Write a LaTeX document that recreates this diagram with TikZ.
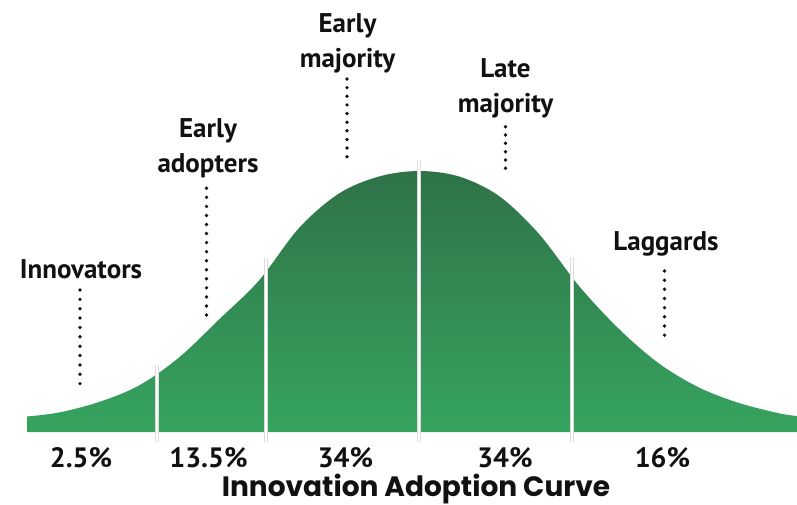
\documentclass[tikz,border=0pt]{standalone}
\usepackage{fontspec}
\setmainfont{PT Sans}
\newfontfamily\titlefont{Poppins}
\definecolor{gtop}{RGB}{47,114,72}
\definecolor{gbot}{RGB}{54,164,95}
\definecolor{ink}{RGB}{17,17,17}
\begin{document}
\begin{tikzpicture}[x=1pt,y=-1pt,
  lbl/.style={font=\fontsize{27}{35}\selectfont\bfseries, text=ink, inner sep=0pt, align=center},
  pct/.style={font=\fontsize{28}{32}\selectfont\bfseries, text=ink, inner sep=0pt},
  ttl/.style={font=\titlefont\fontsize{28}{32}\selectfont\bfseries, text=ink, inner sep=0pt},
  leader/.style={ink, line width=3.7pt, line cap=round, dash pattern=on 0pt off #1},
  divline/.style={line width=3.2pt, black!14},
  divcore/.style={line width=1.9pt, white}]
\useasboundingbox (0,0) rectangle (797,505);
% curve
\shade[top color=gtop, bottom color=gbot]
  (27,432) -- (27,416.5)
  -- plot[smooth, tension=0.55] coordinates {(27,416.5) (59,412.5) (99,402) (139,385.5) (179,357.5) (219,319.5) (259,280.5) (299,228) (339,193.5) (379,176.5) (419,171) (459,176.5) (499,196) (539,234) (579,286) (619,329) (659,363.5) (699,387.5) (739,403) (779,413.3) (797,416)}
  -- (797,432) -- cycle;
% dividers
\coordinate (d1t) at (157,365); \coordinate (d1b) at (157,442);
\coordinate (d2t) at (266,258); \coordinate (d2b) at (266,442);
\coordinate (d3t) at (419,160); \coordinate (d3b) at (419,442);
\coordinate (d4t) at (572,257); \coordinate (d4b) at (572,442);
\foreach \i in {1,2,3,4}{
  \draw[divline] (d\i t) -- (d\i b);
  \draw[divcore] (d\i t) -- (d\i b);
}
% labels
\node[lbl, anchor=base] (innov) at (81,278) {Innovators};
\node[lbl, anchor=base] (eadopt) at (208,172) {Early\\adopters};
\node[lbl, anchor=base] (emaj) at (347.5,68) {Early\\majority};
\node[lbl, anchor=base] (lmaj) at (505.5,113) {Late\\majority};
\node[lbl, anchor=base] (lagg) at (666,250) {Laggards};
% leaders
\coordinate (innovA) at (80,290);   \coordinate (innovB) at (80,393);
\coordinate (eadoptA) at (206.5,188.3); \coordinate (eadoptB) at (206.5,315);
\coordinate (emajA) at (347,79);    \coordinate (emajB) at (347,156.7);
\coordinate (lmajA) at (505.5,126.7); \coordinate (lmajB) at (505.5,168.3);
\coordinate (laggA) at (664.5,271); \coordinate (laggB) at (664.5,344.3);
\draw[leader=9.364pt] (innovA) -- (innovB);
\draw[leader=9.05pt] (eadoptA) -- (eadoptB);
\draw[leader=8.633pt] (emajA) -- (emajB);
\draw[leader=8.32pt] (lmajA) -- (lmajB);
\draw[leader=9.1625pt] (laggA) -- (laggB);
% percentages
\node[pct, anchor=base] (p1) at (81,467) {2.5\%};
\node[pct, anchor=base] (p2) at (208.5,467) {13.5\%};
\node[pct, anchor=base] (p3) at (345.5,467) {34\%};
\node[pct, anchor=base] (p4) at (505,467) {34\%};
\node[pct, anchor=base] (p5) at (662.5,467) {16\%};
% title
\node[ttl, anchor=base] (title) at (416,496) {Innovation Adoption Curve};
\end{tikzpicture}
\end{document}
